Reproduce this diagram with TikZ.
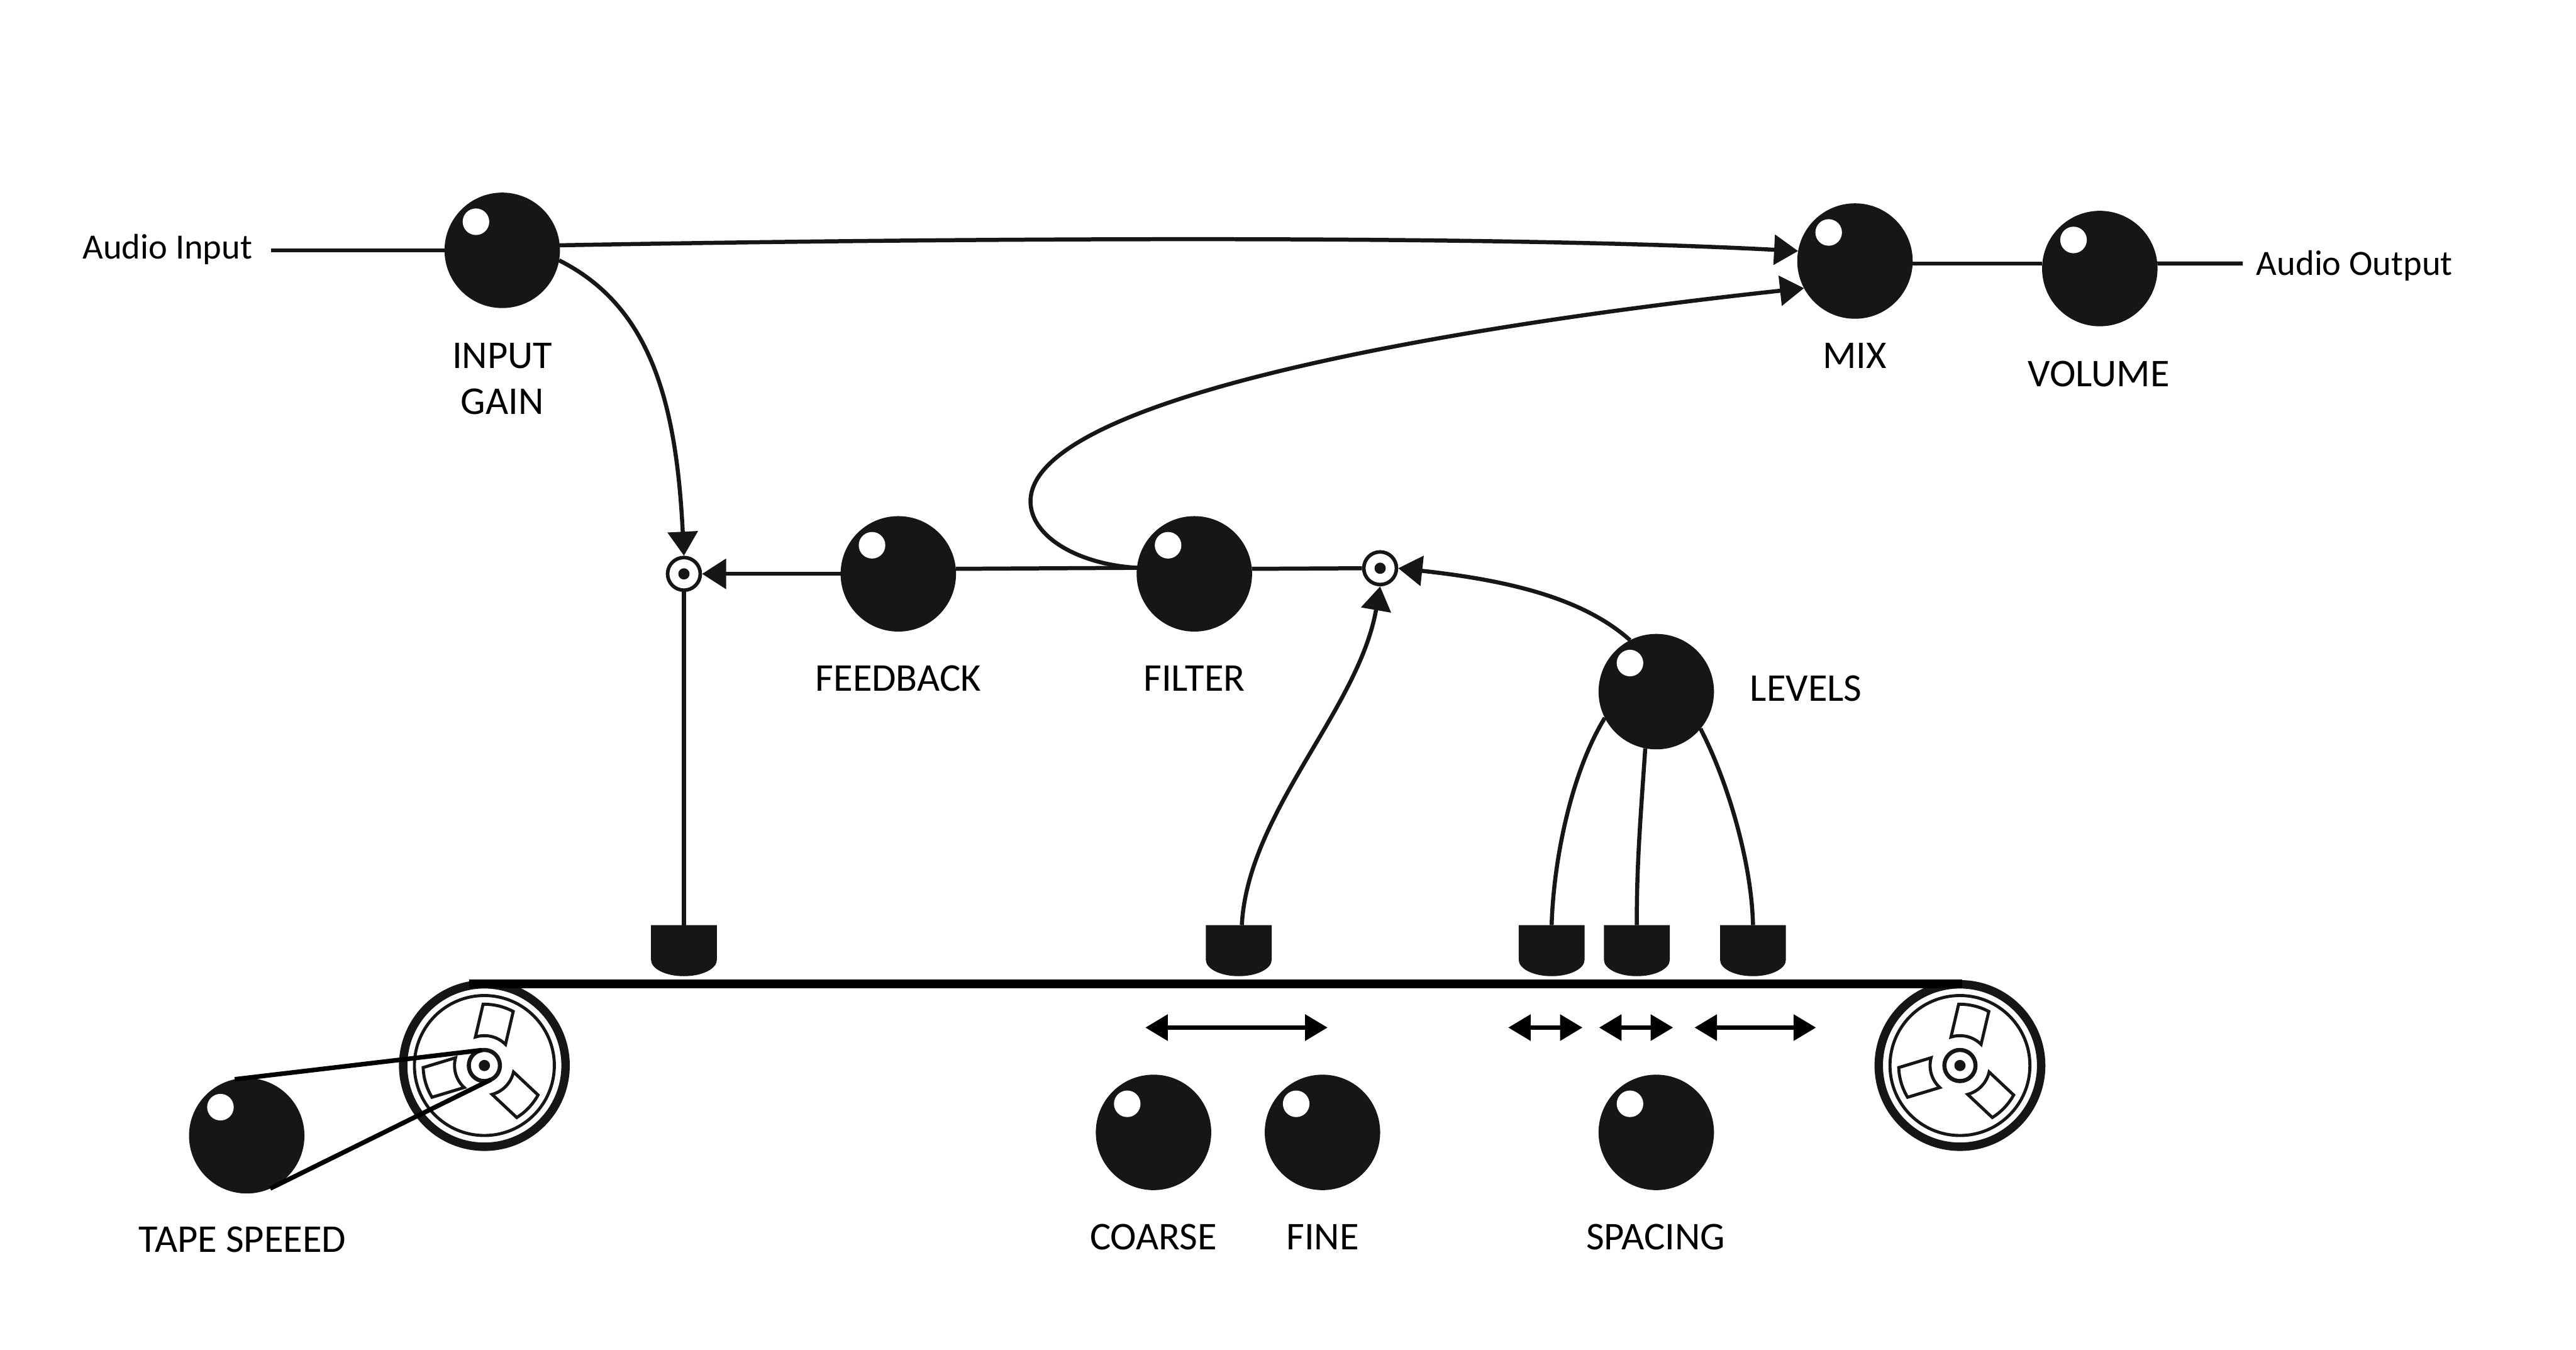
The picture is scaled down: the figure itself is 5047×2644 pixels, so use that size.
\documentclass[tikz,border=0pt]{standalone}
\usepackage{fontspec}
\setmainfont{Carlito}
\usetikzlibrary{arrows.meta}
\definecolor{ink}{HTML}{161616}
\tikzset{
  knob/.style={circle,fill=ink,inner sep=0pt,outer sep=0pt,minimum size=2.26cm,
    path picture={\fill[white] ([shift={(-51.5,-56)}]path picture bounding box.center) circle (0.26cm);}},
  sumnode/.style={circle,draw=ink,fill=white,line width=0.07cm,inner sep=0pt,minimum size=0.64cm,
    path picture={\fill[ink] (path picture bounding box.center) circle (0.11cm);}},
  wire/.style={draw=ink,line width=0.08cm},
  arrowwire/.style={wire,-{Triangle[length=0.47cm,width=0.58cm]}},
  spanarrow/.style={draw=black,line width=0.086cm,
    {Triangle[length=0.44cm,width=0.5cm]}-{Triangle[length=0.44cm,width=0.5cm]}},
  belt/.style={draw=black,line width=0.09cm},
  tape/.style={draw=black,line width=0.17cm},
  ringouter/.style={circle,draw=ink,line width=0.165cm,inner sep=0pt,outer sep=0pt,minimum size=3.18cm},
  ringinner/.style={circle,draw=ink,line width=0.06cm,inner sep=0pt,outer sep=0pt,minimum size=2.74cm},
  hub/.style={circle,draw=ink,line width=0.08cm,inner sep=0pt,outer sep=0pt,minimum size=0.61cm,
    path picture={\fill[ink] (path picture bounding box.center) circle (0.11cm);}},
  lab/.style={inner sep=0pt,outer sep=0pt,font=\fontsize{21.9}{25.6}\selectfont,text=black,align=center},
  sublab/.style={inner sep=0pt,outer sep=0pt,font=\fontsize{19.8}{24}\selectfont,text=black},
  reelwindows/.pic={
    \begin{scope}[y=0.01cm]
      \foreach \a in {0,120,240}{
        \draw[ink,line width=0.06cm,miter limit=12,rotate=\a]
          (61.9:120) arc[start angle=61.9,end angle=91.2,radius=1.2cm]
          -- (107.5:58.5) arc[start angle=107.5,end angle=45,radius=0.585cm] -- cycle;
      }
    \end{scope}
  },
  bobbin/.pic={
    \coordinate (-top) at (0,0);
    \fill[ink] (-64.5,0) -- (64.5,0) -- (64.5,68)
      .. controls (64.5,85.7) and (35.6,100) .. (0,100)
      .. controls (-35.6,100) and (-64.5,85.7) .. (-64.5,68) -- cycle;
  }
}
\begin{document}
\begin{tikzpicture}[x=0.01cm,y=-0.01cm]
\useasboundingbox (0,0) rectangle (5047,2644);
\fill[white] (0,0) rectangle (5047,2644);

% reels
\node[ringouter] (reelLo) at (949,2087) {};
\node[ringinner] (reelLi) at (949,2087) {};
\pic at (949,2087) {reelwindows};
\node[hub] (hubL) at (949,2087) {};
\node[ringouter] (reelRo) at (3840,2087) {};
\node[ringinner] (reelRi) at (3840,2087) {};
\pic at (3840,2087) {reelwindows};
\node[hub] (hubR) at (3840,2087) {};

% tape
\coordinate (tapeL) at (918.6,1927.5);
\coordinate (tapeR) at (3844,1927.5);
\draw[tape] (tapeL) -- (tapeR);

% bobbins
\pic (bobA) at (1340,1812) {bobbin};
\pic (bobB) at (2427,1812) {bobbin};
\pic (bobC) at (3040,1812) {bobbin};
\pic (bobD) at (3207,1812) {bobbin};
\pic (bobE) at (3434.5,1812) {bobbin};

% knobs
\node[knob] (gain) at (984,490.3) {};
\node[knob] (mix) at (3634.3,511.3) {};
\node[knob] (volume) at (4114,526) {};
\node[knob] (feedback) at (1760,1124) {};
\node[knob] (filter) at (2340,1124) {};
\node[knob] (levels) at (3245,1354.7) {};
\node[knob] (speed) at (483.4,2224.6) {};
\node[knob] (coarse) at (2260,2218) {};
\node[knob] (fine) at (2591,2218) {};
\node[knob] (spacing) at (3245,2218) {};

% summing points
\node[sumnode] (sumA) at (1340,1124) {};
\node[sumnode] (sumB) at (2704,1113) {};

% free ends
\coordinate (inEnd) at (531,490.3);
\coordinate (outEnd) at (4394,516);

% straight wires
\draw[wire] (inEnd) -- (gain.west);
\draw[wire] (volume.5) -- (outEnd);
\draw[wire] (mix.east |- volume.5) -- (volume.west |- volume.5);
\draw[arrowwire] (feedback.west) -- (sumA.east);
\draw[wire] (feedback.5.6) -- (filter.174.4);
\draw[wire] (filter.5.6) -- (sumB.west);
\draw[wire] (sumA.south) -- (bobA-top);

% curved wires
\draw[arrowwire] (gain.5) .. controls (1900,466) and (2922,460) .. (mix.170);
\draw[arrowwire] (gain.-10) .. controls (1275,600) and (1325,788) .. (sumA.north);
\draw[wire] (filter.174.4) .. controls (2110,1105) and (2019,1050) .. (2019,982)
  coordinate (loopLeft);
\draw[arrowwire] (loopLeft) .. controls (2019,780) and (2835,640) .. (mix.208.6);
\draw[arrowwire] (bobB-top) ++(6,0) .. controls (2445,1590) and (2662,1390) .. (sumB.south);
\draw[arrowwire] (levels.117.5) .. controls (3100,1170) and (2950,1136) .. (sumB.east);
\draw[wire] (levels.207) .. controls (3080,1510) and (3044,1680) .. (bobC-top);
\draw[wire] (levels.259.6) .. controls (3215,1590) and (3206,1700) .. (bobD-top);
\draw[wire] (levels.320.8) .. controls (3385,1530) and (3432,1690) .. (bobE-top);

% belt
\draw[belt] (speed.102.6) -- (hubL.100);
\draw[belt] (speed.-66.6) -- (hubL.-66);

% span arrows
\coordinate (spA1) at (2244,2012.7); \coordinate (spA2) at (2601,2012.7);
\coordinate (spB1) at (2955,2012.7); \coordinate (spB2) at (3100.5,2012.7);
\coordinate (spC1) at (3133,2012.7); \coordinate (spC2) at (3278,2012.7);
\coordinate (spD1) at (3320,2012.7); \coordinate (spD2) at (3558,2012.7);
\draw[spanarrow] (spA1) -- (spA2);
\draw[spanarrow] (spB1) -- (spB2);
\draw[spanarrow] (spC1) -- (spC2);
\draw[spanarrow] (spD1) -- (spD2);

% labels
\node[sublab,anchor=base west] (tIn) at (162,507.3) {Audio Input};
\node[sublab,anchor=base west] (tOut) at (4421,539.3) {Audio Output};
\node[lab,anchor=center] (tGain) at (984,742) {INPUT\\GAIN};
\node[lab,anchor=base] (tMix) at (3634,722) {MIX};
\node[lab,anchor=base] (tVol) at (4112,757) {VOLUME};
\node[lab,anchor=base] (tFb) at (1760,1354) {FEEDBACK};
\node[lab,anchor=base] (tFil) at (2340,1354) {FILTER};
\node[lab,anchor=base west] (tLev) at (3429,1373.7) {LEVELS};
\node[lab,anchor=base] (tSpeed) at (475,2452) {TAPE SPEEED};
\node[lab,anchor=base] (tCoarse) at (2260,2448) {COARSE};
\node[lab,anchor=base] (tFine) at (2591.5,2448) {FINE};
\node[lab,anchor=base] (tSpacing) at (3244,2448) {SPACING};
\end{tikzpicture}
\end{document}
